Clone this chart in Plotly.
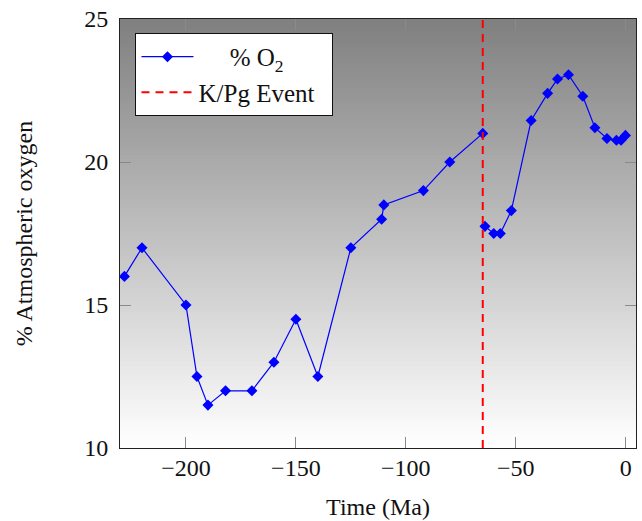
import plotly.graph_objects as go

# Data
time_ma = [-228, -220, -200, -195, -190, -182, -170, -160, -150, -140, -125, -111, -110, -92, -80, -65,
           None,
           -64, -60, -57, -52, -43, -35.5, -31, -26, -19.5, -14, -8.5, -4.2, -2.1, -0.1]
o2_pct = [16, 17, 15, 12.5, 11.5, 12, 12, 13, 14.5, 12.5, 17, 18, 18.5, 19, 20, 21,
          None,
          17.75, 17.5, 17.5, 18.3, 21.45, 22.4, 22.9, 23.05, 22.3, 21.2, 20.82, 20.76, 20.76, 20.93]
kpg_time = -65
y_range = [10, 25]
x_range = [-230, 4.7]
x_ticks = [-200, -150, -100, -50, 0]
y_ticks = [10, 15, 20, 25]

FONT = "Liberation Serif"
NB = "\u00a0"

fig = go.Figure()

fig.add_trace(go.Scatter(
    x=time_ma, y=o2_pct, mode="lines+markers", name=NB * 5 + "% O<sub>2</sub>",
    line=dict(color="#0000ff", width=1.2),
    marker=dict(symbol="diamond", size=8.5, color="#0000ff"),
    connectgaps=False,
))
fig.add_trace(go.Scatter(
    x=[kpg_time, kpg_time], y=y_range, mode="lines", name="K/Pg Event" + NB * 2,
    line=dict(color="#ff0000", width=2, dash="8px,6px"),
))

# shaded axis background (gray at top -> white at bottom), overlapping bands
n = 120
shapes = []
for i in range(n):
    t = i / (n - 1)
    v = int(round(128 + (255 - 128) * t))
    shapes.append(dict(type="rect", xref="paper", yref="paper", x0=0, x1=1,
                       y0=0, y1=1 - i / n,
                       fillcolor=f"rgb({v},{v},{v})", line=dict(width=0), layer="below"))

axis_common = dict(
    showgrid=False, zeroline=False, showline=True, linecolor="#222222", linewidth=1,
    mirror="ticks", ticks="inside", ticklen=11, tickcolor="#8a8a8a", tickwidth=1,
    tickfont=dict(family=FONT, size=24, color="#111111"),
)

fig.update_layout(
    width=642, height=521,
    margin=dict(l=120, r=5, t=19, b=71),
    paper_bgcolor="white", plot_bgcolor="white",
    shapes=shapes,
    font=dict(family=FONT, size=24, color="#111111"),
    xaxis=dict(range=x_range, tickvals=x_ticks, ticktext=[f"\u2212{abs(v)}" if v < 0 else str(v) for v in x_ticks],
               title=dict(text="Time (Ma)", font=dict(family=FONT, size=24), standoff=18),
               ticklabelstandoff=-2, **axis_common),
    yaxis=dict(range=y_range, tickvals=y_ticks,
               title=dict(text="% Atmospheric oxygen", font=dict(family=FONT, size=24), standoff=44),
               ticklabelstandoff=6, **axis_common),
    legend=dict(x=0.03, y=0.9675, xanchor="left", yanchor="top",
                bgcolor="white", bordercolor="#111111", borderwidth=1,
                font=dict(family=FONT, size=25), tracegroupgap=0, itemwidth=52),
    showlegend=True,
)

fig.write_html("out.html")
